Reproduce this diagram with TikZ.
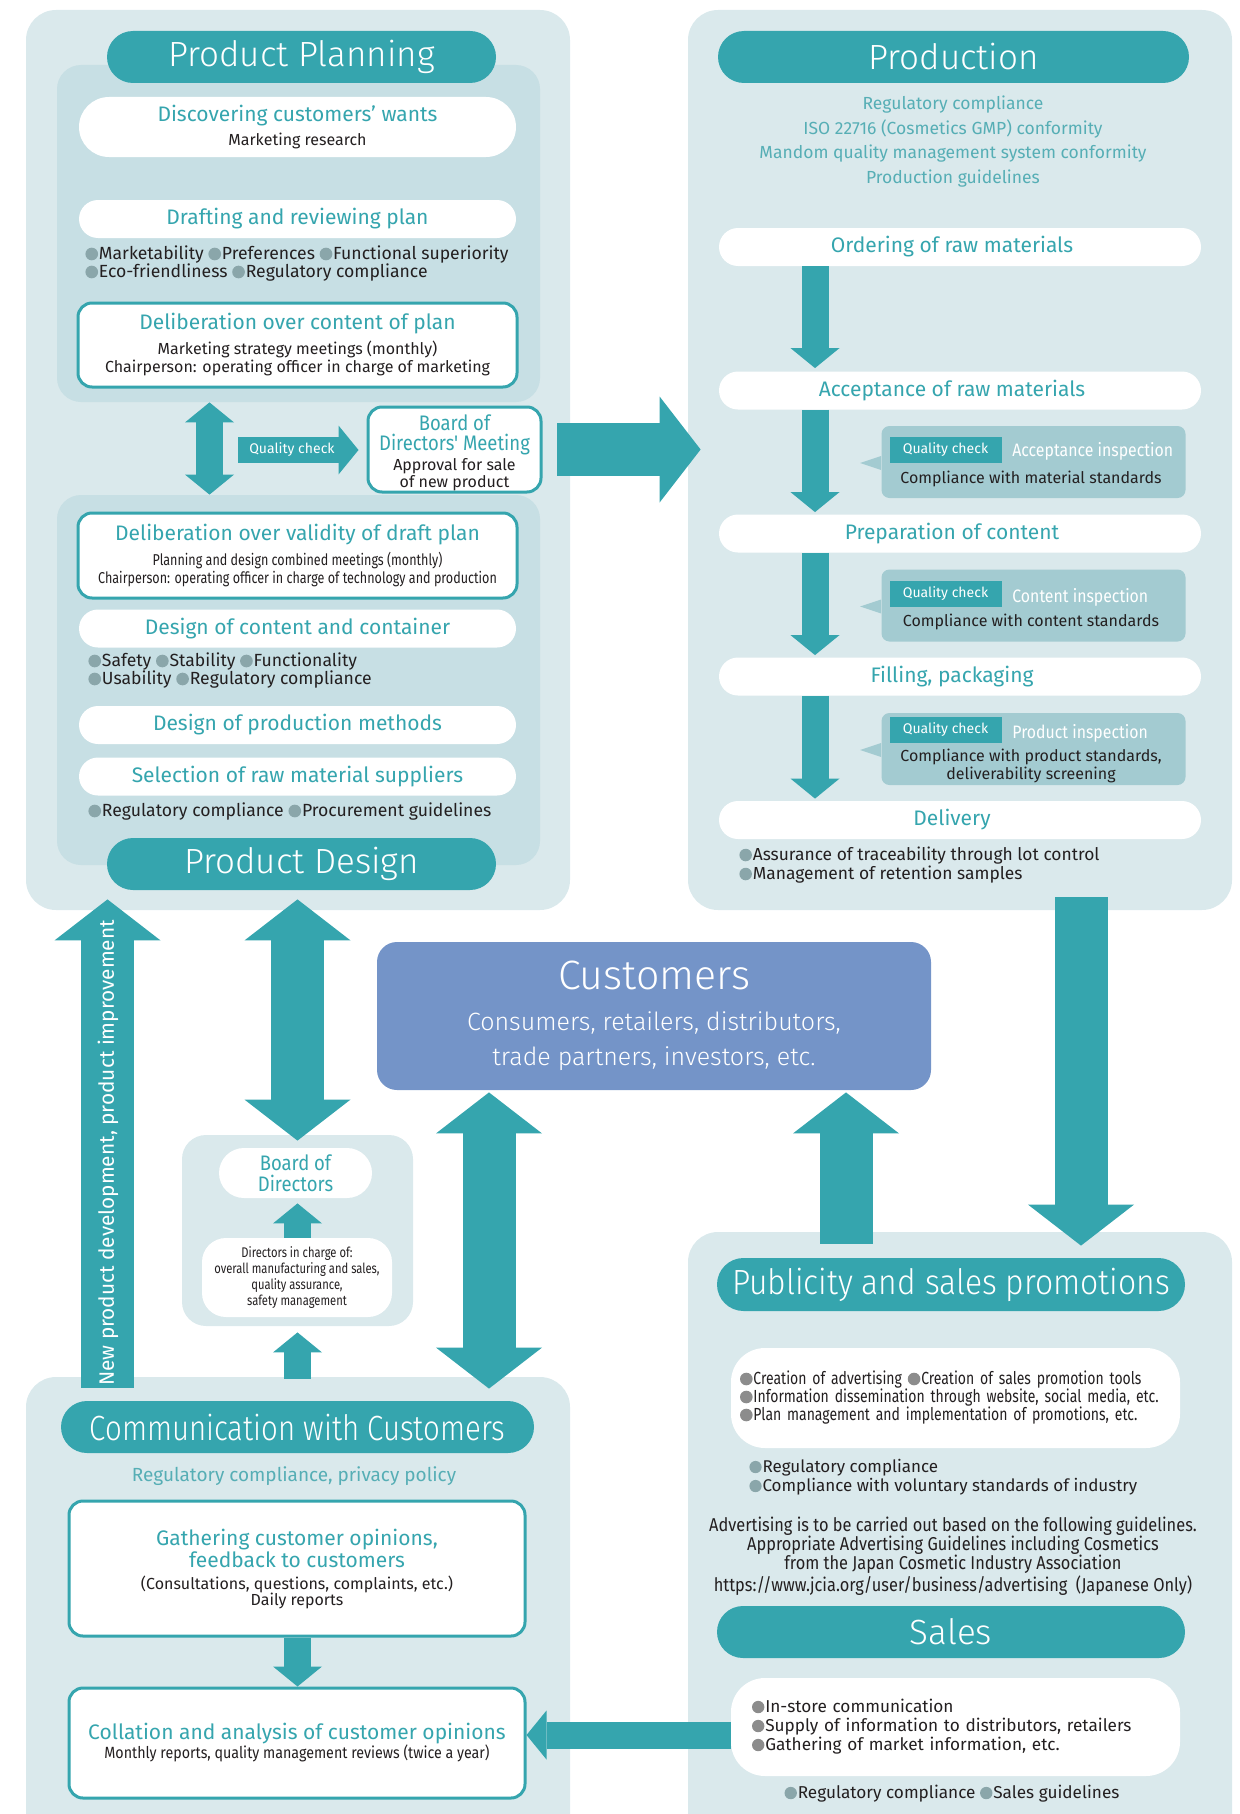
\documentclass[tikz,border=0pt]{standalone}
\usepackage{fontspec}
\setmainfont{Fira Sans}
\newfontfamily\lightfont{Fira Sans Light}
\newfontfamily\lightcond{Fira Sans Light}[FakeStretch=0.84]
\newfontfamily\lightnarrow{Fira Sans Light}[FakeStretch=0.91]
\newfontfamily\condfont{Fira Sans}[FakeStretch=0.8]
\newfontfamily\narrowfont{Fira Sans}[FakeStretch=0.88]
\usetikzlibrary{arrows.meta, shapes.misc, positioning, calc}
\definecolor{panelbg}{RGB}{218,233,236}
\definecolor{innerbg}{RGB}{199,223,228}
\definecolor{myteal}{RGB}{53,165,174}
\definecolor{qcbg}{RGB}{163,203,209}
\definecolor{custblue}{RGB}{116,148,200}
\definecolor{bulgray}{RGB}{138,166,170}
\definecolor{midgray}{RGB}{140,140,140}
\definecolor{softteal}{RGB}{86,174,181}
\definecolor{darktxt}{RGB}{35,31,32}
\newcommand{\headtxt}{\fontsize{10.5}{12.5}\selectfont}
\newcommand{\smalltxt}{\color{darktxt}\fontsize{8}{9}\selectfont}
\newcommand{\condtxt}{\color{darktxt}\condfont\fontsize{7.85}{9}\selectfont}
\newcommand{\bul}[1][bulgray]{\tikz[baseline={(0pt,-0.34em)}]\fill[#1] (0pt,0pt) circle (0.36em);\hspace{0.05em}}
\tikzset{
  panel/.style={rectangle, fill=panelbg, rounded corners=15pt, inner sep=0pt},
  innerpanel/.style={rectangle, fill=innerbg, rounded corners=12pt, inner sep=0pt},
  titlepill/.style={rounded rectangle, fill=myteal, text=white, inner sep=0pt,
    minimum height=26pt, font=\lightfont\fontsize{17.5}{20}\selectfont},
  stagepill/.style={rounded rectangle, fill=white, text=myteal, inner sep=0pt,
    minimum height=19pt, align=center, font=\headtxt},
  framebox/.style={rectangle, fill=white, draw=myteal, line width=1.5pt,
    rounded corners=7pt, inner sep=0pt, align=center, text=myteal, font=\headtxt},
  bullist/.style={anchor=west, align=left, inner sep=0pt, text=darktxt,
    font=\fontsize{8.8}{9}\selectfont},
  qcbubble/.style={rectangle, fill=qcbg, rounded corners=4pt, inner sep=0pt,
    minimum width=152pt, minimum height=36pt},
  qctag/.style={rectangle, fill=myteal, text=white, inner sep=0pt,
    minimum width=56pt, minimum height=13pt, font=\fontsize{7}{8}\selectfont},
  qcinsp/.style={anchor=west, inner sep=0pt, text=white, font=\narrowfont\fontsize{9}{10}\selectfont},
  qccomp/.style={inner sep=0pt, align=center, text=darktxt, font=\fontsize{8}{9}\selectfont},
  bigarrow/.style={myteal, line width=26.5pt,
    -{Triangle[width=53pt, length=20.5pt, line width=0pt]}},
  bigdbl/.style={myteal, line width=26.5pt,
    {Triangle[width=53pt, length=20.5pt, line width=0pt]}-{Triangle[width=53pt, length=20.5pt, line width=0pt]}},
  smallarrow/.style={myteal, line width=13.5pt,
    -{Triangle[width=24.5pt, length=10pt, line width=0pt]}},
  smalldbl/.style={myteal, line width=13.5pt,
    {Triangle[width=24.5pt, length=10pt, line width=0pt]}-{Triangle[width=24.5pt, length=10pt, line width=0pt]}}
}
\begin{document}
\begin{tikzpicture}[x=0.5pt, y=-0.5pt]
  \useasboundingbox (0,0) rectangle (1240,1814);
  \clip (0,0) rectangle (1240,1814);

  % Background panels
  \node[panel, minimum width=272pt, minimum height=450pt] (ppPanel) at (298,460) {};
  \node[innerpanel, minimum width=241.5pt, minimum height=168.5pt] (inner1) at (298.5,233.5) {};
  \node[innerpanel, minimum width=241.5pt, minimum height=185pt] (inner2) at (298.5,680) {};
  \node[panel, minimum width=272pt, minimum height=450pt] (prodPanel) at (960,460) {};
  \node[panel, minimum width=115.5pt, minimum height=95.5pt, rounded corners=12pt] (bodPanel) at (297.5,1230.5) {};
  \node[panel, minimum width=272pt, minimum height=251.5pt] (commPanel) at (298,1628.5) {};
  \node[panel, minimum width=272pt, minimum height=324pt] (pubPanel) at (960,1556) {};

  % Column coordinates for the arrows
  \coordinate (colA) at (209.5,0);
  \coordinate (colL) at (107.5,0);
  \coordinate (colM) at (297.5,0);
  \coordinate (colP) at (815,0);
  \coordinate (colD) at (1081,0);
  \coordinate (colC1) at (489,0);
  \coordinate (colC2) at (846,0);
  \coordinate (qcStart) at (238,450);

  % Product planning
  \node[titlepill, minimum width=194.5pt] (ppTitle) at (301.5,57) {Product Planning};
  \node[stagepill, minimum width=218.5pt, minimum height=30pt] (disc) at (297.5,127)
    {Discovering customers' wants\\[-0.5pt]{\smalltxt Marketing research}};
  \node[stagepill, minimum width=218.5pt] (draft) at (297.5,219) {Drafting and reviewing plan};
  \node[bullist] (draftBul) at (85,264)
    {\bul Marketability \bul Preferences \bul Functional superiority\\
     \bul Eco-friendliness \bul Regulatory compliance};
  \node[framebox, minimum width=219.5pt, minimum height=42pt] (delib1) at (297.5,345)
    {Deliberation over content of plan\\
     {\smalltxt Marketing strategy meetings (monthly)}\\[-3.5pt]
     {\smalltxt Chairperson: operating officer in charge of marketing}};
  \node[framebox, minimum width=86.5pt, minimum height=42.5pt] (bodm) at (454.5,449.5) {};
  \node[align=center, inner sep=0pt, text=myteal, font=\headtxt] (bodmText) at (454.5,452.5)
    {{\narrowfont Board of}\\[-2.5pt]{\narrowfont Directors' Meeting}\\[-2.5pt]
     {\smalltxt Approval for sale}\\[-4pt]{\smalltxt of new product}};

  % Product design
  \node[framebox, minimum width=219.5pt, minimum height=42.5pt] (delib2) at (297.5,555.5)
    {Deliberation over validity of draft plan\\
     {\condtxt Planning and design combined meetings (monthly)}\\[-3.5pt]
     {\condtxt Chairperson: operating officer in charge of technology and production}};
  \node[stagepill, minimum width=218.5pt] (design1) at (297.5,628.5) {Design of content and container};
  \node[bullist] (designBul) at (88,671)
    {\bul Safety \bul Stability \bul Functionality\\
     \bul Usability \bul Regulatory compliance};
  \node[stagepill, minimum width=218.5pt] (design2) at (297.5,725) {Design of production methods};
  \node[stagepill, minimum width=218.5pt] (design3) at (297.5,776.5) {Selection of raw material suppliers};
  \node[bullist] (selBul) at (88,812) {\bul Regulatory compliance \bul Procurement guidelines};
  \node[titlepill, minimum width=194.5pt] (pdTitle) at (301.5,864) {Product Design};

  % Planning arrows
  \draw[smalldbl] (inner1.south -| colA) -- (inner2.north -| colA);
  \draw[smallarrow, line width=13pt, shorten >=4pt] (qcStart) -- (qcStart -| bodm.west)
    node[pos=0.42, text=white, font=\fontsize{7}{8}\selectfont] (qcLabel) {Quality check};
  \draw[bigarrow] ($(ppPanel.east |- bodm.center)+(-13,0)$) -- ($(prodPanel.west |- bodm.center)+(13,0)$);

  % Production
  \node[titlepill, minimum width=235.5pt] (prodTitle) at (953.5,57) {Production};
  \node[align=center, text=softteal, inner sep=0pt, font=\fontsize{8.75}{12.25}\selectfont] (prodRules) at (953,141.5)
    {Regulatory compliance\\ISO 22716 (Cosmetics GMP) conformity\\
     Mandom quality management system conformity\\Production guidelines};
  \node[stagepill, minimum width=241pt] (order) at (960,247) {Ordering of raw materials\hspace{8pt}};
  \node[stagepill, minimum width=241pt] (accept) at (960,390.5) {Acceptance of raw materials\hspace{8pt}};
  \node[stagepill, minimum width=241pt] (prep) at (960,533.5) {Preparation of content\hspace{8pt}};
  \node[stagepill, minimum width=241pt] (filling) at (960,676.5) {Filling, packaging\hspace{8pt}};
  \node[stagepill, minimum width=241pt] (deliv) at (960,820) {Delivery\hspace{8pt}};
  \node[bullist, font=\fontsize{8.7}{9.5}\selectfont] (delivBul) at (739,865.5)
    {\bul Assurance of traceability through lot control\\
     \bul Management of retention samples};

  \draw[smallarrow, shorten >=1.5pt] (order.south -| colP) -- (accept.north -| colP);
  \draw[smallarrow, shorten >=1pt] (accept.south -| colP) -- (prep.north -| colP);
  \draw[smallarrow, shorten >=1pt] (prep.south -| colP) -- (filling.north -| colP);
  \draw[smallarrow, shorten >=1pt] (filling.south -| colP) -- (deliv.north -| colP);

  % Quality checks
  \foreach \name/\ypos in {qcA/462, qcB/605.5, qcC/749} {
    \node[qcbubble] (\name) at (1033.5,\ypos) {};
    \fill[qcbg] ($(\name.west)+(0,-6)$) -- ($(\name.west)+(-21,1)$) -- ($(\name.west)+(0,8)$) -- cycle;
  }
  \node[qctag] (tagA) at (945.5,450) {Quality check};
  \node[qcinsp] (inspA) at (1012,451) {Acceptance inspection};
  \node[qccomp] (compA) at (1031,479) {Compliance with material standards};
  \node[qctag] (tagB) at (945.5,593.5) {Quality check};
  \node[qcinsp] (inspB) at (1012,597) {Content inspection};
  \node[qccomp] (compB) at (1031,622) {Compliance with content standards};
  \node[qctag] (tagC) at (945.5,730) {Quality check};
  \node[qcinsp] (inspC) at (1012,733) {Product inspection};
  \node[qccomp] (compC) at (1031,766) {Compliance with product standards,\\deliverability screening};

  \draw[bigarrow] ($(prodPanel.south -| colD)+(0,-13)$) -- ($(pubPanel.north -| colD)+(0,14)$);

  % Customers
  \node[rectangle, fill=custblue, rounded corners=10pt, minimum width=277pt, minimum height=74pt,
    inner sep=0pt, align=center, text=white, font=\fontsize{12.5}{17.5}\selectfont] (cust) at (654,1016)
    {{\lightfont\fontsize{20.5}{22}\selectfont Customers}\\[3pt]
     {\lightfont Consumers, retailers, distributors,}\\
     {\lightfont trade partners, investors, etc.}};

  % Board of directors
  \node[rounded rectangle, fill=white, inner sep=0pt, minimum width=76.5pt, minimum height=25pt,
    align=center, text=myteal, font=\narrowfont\fontsize{10.5}{10.5}\selectfont] (bod) at (295.5,1173)
    {Board of\\Directors};
  \node[rectangle, fill=white, rounded corners=12pt, inner sep=0pt, minimum width=95pt, minimum height=39.5pt,
    align=center, text=darktxt, font=\condfont\fontsize{7}{8}\selectfont] (dir) at (297,1277.5)
    {Directors in charge of:\\overall manufacturing and sales,\\quality assurance,\\safety management};
  \draw[smallarrow, shorten >=2.5pt] (dir.north -| colM) -- (bod.south -| colM);

  % Arrows between the blocks
  \draw[bigarrow] ($(commPanel.north -| colL)+(0,11)$) -- ($(ppPanel.south -| colL)+(0,-11)$);
  \node[rotate=90, text=white, inner sep=0pt, font=\fontsize{10.4}{11}\selectfont] (newDev) at (108,1153)
    {New product development, product improvement};
  \draw[bigdbl] ($(ppPanel.south -| colM)+(0,-11)$) -- ($(bodPanel.north -| colM)+(0,6)$);
  \draw[smallarrow] ($(commPanel.north -| colM)+(0,2)$) -- ($(bodPanel.south -| colM)+(0,6)$);
  \draw[bigdbl] ($(cust.south -| colC1)+(0,2)$) -- ($(commPanel.north -| colC1)+(0,12)$);
  \draw[bigarrow] ($(pubPanel.north -| colC2)+(0,12)$) -- ($(cust.south -| colC2)+(0,2)$);

  % Communication with customers
  \node[titlepill, minimum width=236.5pt, font=\lightcond\fontsize{17.5}{20}\selectfont] (commTitle) at (297.5,1427)
    {Communication with Customers};
  \node[text=softteal, inner sep=0pt, font=\fontsize{9.5}{10}\selectfont] (commRules) at (294,1476)
    {Regulatory compliance, privacy policy};
  \node[framebox, minimum width=228pt, minimum height=67.5pt] (gath) at (297,1568.5)
    {Gathering customer opinions,\\[-1.5pt]feedback to customers\\[-1.5pt]
     {\smalltxt (Consultations, questions, complaints, etc.)}\\[-4.5pt]
     {\smalltxt Daily reports}};
  \node[framebox, minimum width=228pt, minimum height=55pt] (coll) at (297,1743)
    {Collation and analysis of customer opinions\\[-3pt]
     {\color{darktxt}\narrowfont\fontsize{8.1}{9}\selectfont Monthly reports, quality management reviews (twice a year)}};
  \draw[smallarrow] (gath.south -| colM) -- (coll.north -| colM);

  % Publicity and sales
  \node[titlepill, minimum width=234pt, minimum height=26.5pt, font=\lightnarrow\fontsize{17.5}{20}\selectfont] (pubTitle) at (951,1284.5)
    {Publicity and sales promotions};
  \node[rectangle, fill=white, rounded corners=17pt, minimum height=50pt, inner xsep=4.5pt, inner ysep=0pt,
    text width=215.5pt, align=left, text=darktxt, font=\condfont\fontsize{8.75}{9}\selectfont] (pubBox) at (955.5,1398)
    {\bul[midgray]Creation of advertising \bul[midgray]Creation of sales promotion tools\\
     \bul[midgray]Information dissemination through website, social media, etc.\\
     \bul[midgray]Plan management and implementation of promotions, etc.};
  \node[bullist, font=\fontsize{8.5}{9.5}\selectfont] (pubBul) at (749,1477.5)
    {\bul Regulatory compliance\\\bul Compliance with voluntary standards of industry};
  \node[align=center, inner sep=0pt, text=darktxt, font=\narrowfont\fontsize{9.3}{9.5}\selectfont] (advText) at (953,1556.5)
    {Advertising is to be carried out based on the following guidelines.\\
     Appropriate Advertising Guidelines including Cosmetics\\
     from the Japan Cosmetic Industry Association\\
     https://www.jcia.org/user/business/advertising\hspace{0.45em}(Japanese Only)\hspace{0.3em}};
  \node[titlepill, minimum width=234pt] (salesTitle) at (951,1632) {Sales};
  \node[rectangle, fill=white, rounded corners=17pt, minimum height=49pt, inner xsep=10.5pt, inner ysep=0pt,
    text width=203.5pt, align=left, text=darktxt, font=\fontsize{8.6}{9.5}\selectfont] (salesBox) at (955.5,1727)
    {\bul[midgray]In-store communication\\
     \bul[midgray]Supply of information to distributors, retailers\\
     \bul[midgray]Gathering of market information, etc.};
  \node[inner sep=0pt, text=darktxt, font=\fontsize{8.6}{9}\selectfont] (salesBul) at (952,1794)
    {\bul Regulatory compliance \bul Sales guidelines};
  \draw[smallarrow] ($(salesBox.west)+(0,8)$) -- ($(salesBox.west -| coll.east)+(0,8)$);
\end{tikzpicture}
\end{document}
